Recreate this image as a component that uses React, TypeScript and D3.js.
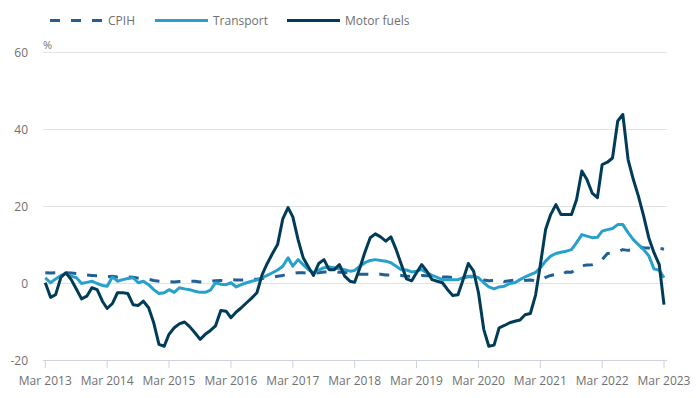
import React from 'react'
import * as d3 from 'd3'

// monthly annual rates, Mar 2013 .. Mar 2023
const startMonth = new Date(2013, 2, 1)
const endMonth = new Date(2023, 2, 1)

const cpih = [
  2.8, 2.7, 2.8, 2.8, 2.8, 2.7, 2.6, 2.3, 2.2, 2.1, 2.0, 1.9,
  1.7, 1.9, 1.7, 1.9, 1.7, 1.6, 1.4, 1.3, 1.1, 0.8, 0.6, 0.5,
  0.5, 0.4, 0.5, 0.5, 0.6, 0.6, 0.4, 0.5, 0.6, 0.7, 0.8, 0.8,
  1.0, 0.9, 0.9, 1.0, 1.1, 1.1, 1.3, 1.4, 1.6, 1.9, 2.1, 2.5,
  2.6, 2.8, 2.8, 2.7, 2.7, 2.8, 3.0, 3.0, 3.0, 2.9, 2.9, 2.7,
  2.5, 2.4, 2.4, 2.4, 2.3, 2.4, 2.2, 2.2, 2.2, 2.1, 1.9, 1.9,
  1.9, 2.1, 2.0, 2.0, 2.0, 1.7, 1.7, 1.5, 1.5, 1.4, 1.8, 1.7,
  1.5, 0.9, 0.7, 0.8, 1.1, 0.5, 0.7, 0.9, 0.6, 0.8, 0.9, 0.7,
  1.0, 1.6, 2.1, 2.4, 2.1, 3.0, 2.9, 3.8, 4.6, 4.8, 4.9, 5.5,
  6.2, 7.8, 7.9, 8.2, 8.8, 8.6, 8.8, 9.6, 9.3, 9.2, 8.8, 9.2,
  8.9,
]

const transport = [
  1.5, 0.2, 1.2, 2.1, 2.6, 1.9, 1.5, 0.0, 0.3, 0.6, 0.0, -0.5,
  -0.7, 1.7, 0.6, 1.0, 1.3, 1.5, 0.2, 0.6, -0.3, -1.6, -2.6, -2.4,
  -1.6, -2.3, -1.1, -1.4, -1.6, -2.0, -2.3, -2.3, -1.7, 0.2, -0.2, -0.3,
  0.2, -0.9, -0.3, 0.2, 0.6, 0.9, 1.5, 2.1, 2.8, 3.5, 4.5, 6.7,
  4.5, 6.2, 4.9, 3.6, 2.8, 3.5, 4.1, 4.3, 4.1, 3.8, 3.6, 3.2,
  3.4, 4.5, 5.4, 6.0, 6.2, 6.0, 5.8, 5.4, 4.5, 3.6, 3.5, 3.0,
  3.2, 3.6, 2.8, 2.1, 1.6, 1.0, 1.0, 1.0, 1.0, 1.5, 1.9, 1.9,
  1.5, 0.2, -0.9, -1.4, -0.9, -0.7, 0.0, 0.2, 1.0, 1.7, 2.3, 2.9,
  4.1, 5.8, 7.1, 7.8, 8.1, 8.4, 8.8, 10.6, 12.7, 12.3, 11.9, 12.0,
  13.6, 14.0, 14.3, 15.3, 15.3, 13.2, 11.4, 10.1, 8.8, 7.2, 3.8, 3.4,
  1.5,
]

const motorFuels = [
  0.2, -3.6, -2.9, 1.6, 2.8, 1.0, -1.5, -4.0, -3.3, -1.1, -1.6, -4.6,
  -6.5, -5.2, -2.4, -2.4, -2.6, -5.5, -5.7, -4.6, -6.3, -10.2, -15.8, -16.3,
  -13.2, -11.5, -10.5, -10.0, -11.2, -12.8, -14.5, -13.2, -12.2, -11.0, -7.0, -7.2,
  -8.9, -7.4, -6.3, -5.0, -3.8, -2.4, 2.3, 5.2, 7.8, 10.1, 16.8, 19.7,
  17.3, 11.4, 6.7, 4.3, 2.1, 5.2, 6.2, 3.6, 3.6, 4.9, 1.9, 0.6,
  0.3, 4.1, 8.2, 11.9, 12.9, 12.1, 11.0, 12.1, 8.8, 5.0, 1.2, 0.7,
  2.8, 4.9, 3.2, 1.0, 0.6, 0.2, -1.6, -3.1, -2.9, 1.0, 5.2, 3.2,
  -2.4, -11.9, -16.3, -16.0, -11.5, -10.9, -10.2, -9.8, -9.5, -8.1, -7.8, -3.0,
  4.8, 14.0, 17.9, 20.5, 17.9, 17.9, 17.9, 21.8, 29.2, 27.0, 23.5, 22.3,
  30.9, 31.5, 32.6, 42.2, 43.9, 32.2, 27.0, 22.7, 17.5, 11.9, 8.0, 4.9,
  -5.5,
]

const yTicks = [-20, 0, 20, 40, 60]
const xTickYears = [2013, 2014, 2015, 2016, 2017, 2018, 2019, 2020, 2021, 2022, 2023]

const seriesNames = ['CPIH', 'Transport', 'Motor fuels']
const seriesColors = ['#206095', '#27a0cc', '#003c57']

const W = 696
const H = 398
const font = '"Open Sans", sans-serif'
const textColor = '#707071'

export default function App() {
  const months = d3.timeMonth.range(startMonth, d3.timeMonth.offset(endMonth, 1))

  const x = d3.scaleTime().domain([startMonth, endMonth]).range([45.3, 664])
  const y = d3.scaleLinear().domain([-20, 60]).range([360.5, 52.5])

  const line = d3.line<number>()
    .x((_, i) => x(months[i]))
    .y(d => y(d))

  const series = [cpih, transport, motorFuels]
  const legendX = [50, 155, 287]

  return (
    <svg width={W} height={H} style={{ position: 'absolute', left: 0, top: 0 }} fontFamily={font}>
      {/* legend */}
      {seriesNames.map((name, i) => (
        <g key={name}>
          <line x1={legendX[i]} x2={legendX[i] + 53} y1={20.5} y2={20.5}
            stroke={seriesColors[i]} strokeWidth={3}
            strokeDasharray={i === 0 ? '10 11' : undefined} />
          <text x={legendX[i] + 58} y={25} fontSize={12} fill={textColor}>{name}</text>
        </g>
      ))}

      <text x={43} y={49} fontSize={11} fill={textColor}>%</text>

      {/* grid */}
      {yTicks.map(t => (
        <g key={t}>
          <line x1={43} x2={667} y1={y(t)} y2={y(t)}
            stroke={t === -20 ? '#cdd1e0' : '#e2e2e3'} strokeWidth={1} />
          <text x={28} y={y(t)} dy="0.35em" textAnchor="end" fontSize={12} fill={textColor}>{t}</text>
        </g>
      ))}

      {/* x axis */}
      {xTickYears.map(yr => {
        const d = new Date(yr, 2, 1)
        return (
          <g key={yr} transform={`translate(${x(d)},0)`}>
            <line y1={360.5} y2={368} stroke="#cdd1e0" />
            <text y={385} textAnchor="middle" fontSize={12} fill={textColor}>Mar {yr}</text>
          </g>
        )
      })}

      {series.map((s, i) => (
        <path key={i} d={line(s) || ''} fill="none" stroke={seriesColors[i]}
          strokeWidth={3} strokeLinejoin="round"
          strokeDasharray={i === 0 ? '10 11' : undefined} />
      ))}
    </svg>
  )
}
